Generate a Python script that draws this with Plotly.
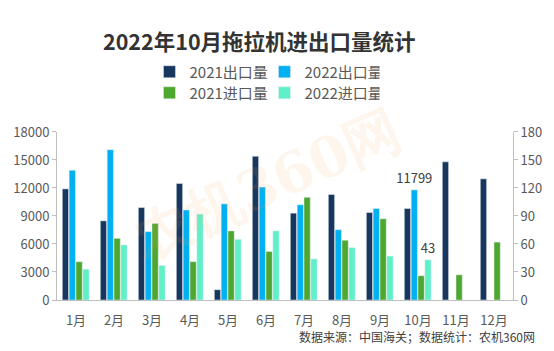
import plotly.graph_objects as go

months = ["1月", "2月", "3月", "4月", "5月", "6月", "7月", "8月", "9月", "10月", "11月", "12月"]
export_2021 = [11900, 8480, 9900, 12480, 1100, 15400, 9300, 11300, 9370, 9800, 14800, 12980]
export_2022 = [13900, 16100, 7320, 9640, 10300, 12100, 10200, 7530, 9800, 11799, None, None]
import_2021 = [41, 66, 82, 41, 74, 52, 110, 64, 87, 26, 27, 62]
import_2022 = [33, 59, 37, 92, 65, 74, 44, 56, 47, 43, None, None]

left_ticks = [0, 3000, 6000, 9000, 12000, 15000, 18000]
right_ticks = [0, 30, 60, 90, 120, 150, 180]

FONT = "Noto Sans CJK SC"
TXT = "#595959"

def label_last(vals):
    return ["" if v is None or i != 9 else str(v) for i, v in enumerate(vals)]

fig = go.Figure()
specs = [
    ("2021出口量", export_2021, "#17375E", "y", -0.36, "legend", None),
    ("2022出口量", export_2022, "#00B0F0", "y", -0.18, "legend", label_last(export_2022)),
    ("2021进口量", import_2021, "#4EA72E", "y2", 0.0, "legend2", None),
    ("2022进口量", import_2022, "#5FF0C8", "y2", 0.18, "legend2", label_last(import_2022)),
]
for name, vals, color, yax, off, leg, txt in specs:
    fig.add_trace(go.Bar(
        x=months, y=vals, name=name, marker_color=color, yaxis=yax,
        width=0.165, offset=off, legend=leg,
        text=txt, textposition="outside" if txt else None,
        constraintext="none",
        textfont=dict(family=FONT, size=13, color="#404040"),
        cliponaxis=False,
    ))

leg_common = dict(orientation="h", x=0.455, xanchor="center", yanchor="middle",
                  yref="container", font=dict(size=15, color=TXT),
                  traceorder="normal", bgcolor="rgba(0,0,0,0)",
                  entrywidth=70, entrywidthmode="pixels")

fig.update_layout(
    width=554, height=351,
    margin=dict(l=57, r=39, t=104, b=51),
    paper_bgcolor="white", plot_bgcolor="white",
    font=dict(family=FONT, color=TXT),
    barmode="overlay",
    title=dict(text="<b>2022年10月拖拉机进出口量统计</b>", x=0.468, xanchor="center",
               y=1 - 42 / 351, yanchor="middle",
               font=dict(family=FONT, size=21.5, color="#333333")),
    xaxis=dict(showline=True, linecolor="#BFBFBF", linewidth=1, ticks="outside",
               ticklen=8, tickcolor="rgba(0,0,0,0)",
               tickfont=dict(size=13, color=TXT), showgrid=False),
    yaxis=dict(range=[0, 18000], tickvals=left_ticks, ticktext=[str(v) for v in left_ticks],
               showgrid=False, showline=True,
               linecolor="#BFBFBF", ticks="outside", ticklen=4, tickcolor="#BFBFBF",
               tickfont=dict(size=13, color=TXT), zeroline=False),
    yaxis2=dict(range=[0, 180], tickvals=right_ticks, ticktext=[str(v) for v in right_ticks],
                overlaying="y", side="right",
                showgrid=False, showline=True, linecolor="#BFBFBF", ticks="outside",
                ticklen=4, tickcolor="#BFBFBF", tickfont=dict(size=13, color=TXT),
                zeroline=False),
    legend=dict(y=1 - 72 / 351, **leg_common),
    legend2=dict(y=1 - 93 / 351, **leg_common),
    annotations=[
        dict(text="数据来源：中国海关；数据统计：农机360网", xref="paper", yref="paper",
             x=1 + 24 / 458, y=-42 / 196, xanchor="right", yanchor="middle", showarrow=False,
             font=dict(family=FONT, size=12, color="#404040")),
        dict(text="<b>农机360网</b>", xref="paper", yref="paper", x=0.46, y=0.69,
             xanchor="center", yanchor="middle", showarrow=False, textangle=-24,
             font=dict(family="DejaVu Serif", size=56, color="rgba(250,160,90,0.11)")),
    ],
)

fig.write_html("out.html")
